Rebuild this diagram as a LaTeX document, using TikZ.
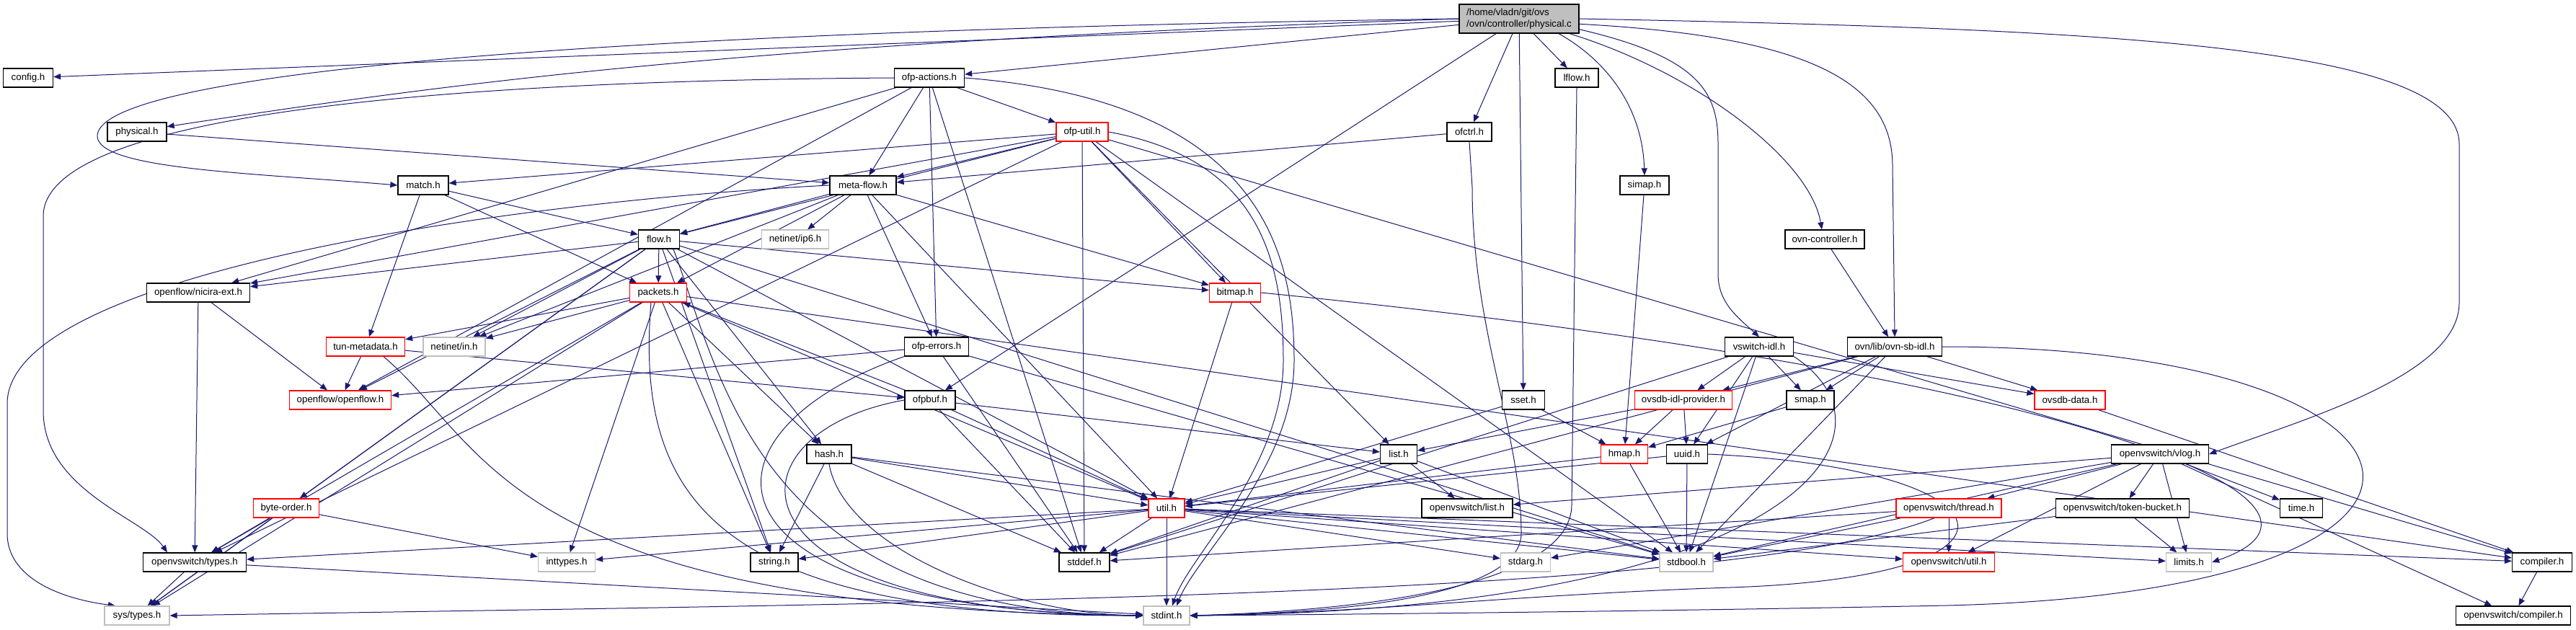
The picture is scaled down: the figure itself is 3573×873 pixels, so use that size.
\documentclass[tikz,border=0pt]{standalone}
\usepackage{fontspec}
\setmainfont{Liberation Sans}
\usetikzlibrary{arrows.meta}
\definecolor{edgec}{RGB}{25,25,112}
\definecolor{grayb}{RGB}{191,191,191}
\pgfdeclarelayer{bg}
\pgfsetlayers{bg,main}
\newcommand{\dgfont}{\fontsize{13.3}{15.5}\selectfont}
\tikzset{
  box/.style={rectangle, fill=white, line width=1.3pt, minimum height=26pt, inner sep=0pt, font=\dgfont},
  bk/.style={box, draw=black, minimum width=#1},
  rd/.style={box, draw=red, minimum width=#1},
  gy/.style={box, draw=grayb, minimum width=#1},
  dep/.style={draw=edgec, line width=1pt, -{Triangle[length=10pt,width=8pt]}}
}
\begin{document}
\begin{tikzpicture}[x=1pt,y=-1pt]
\useasboundingbox (0,0) rectangle (3573,873);
% nodes
\node[box, draw=black, fill=grayb, minimum width=166pt, minimum height=40pt, align=left] (pc) at (2107,26) {/home/vladn/git/ovs\\/ovn/controller/physical.c};
\node[bk=69pt] (config) at (39,108) {config.h};
\node[bk=82pt] (physh) at (190,183) {physical.h};
\node[bk=70pt] (match) at (587,257) {match.h};
\node[bk=97pt] (ofpact) at (1289,108) {ofp-actions.h};
\node[rd=72pt] (ofputil) at (1501,183) {ofp-util.h};
\node[bk=92pt] (metaflow) at (1197,257) {meta-flow.h};
\node[bk=57pt] (flow) at (914,332) {flow.h};
\node[gy=93pt] (ip6) at (1103,332) {netinet/ip6.h};
\node[bk=143pt] (nicira) at (275,406) {openflow/nicira-ext.h};
\node[rd=79pt] (packets) at (913,406) {packets.h};
\node[rd=71pt] (bitmap) at (1713,406) {bitmap.h};
\node[bk=60pt] (lflow) at (2187,108) {lflow.h};
\node[bk=62pt] (ofctrl) at (2038,183) {ofctrl.h};
\node[bk=68pt] (simap) at (2281,257) {simap.h};
\node[bk=110pt] (ovnctl) at (2531,332) {ovn-controller.h};
\node[rd=109pt] (tunmeta) at (507,481) {tun-metadata.h};
\node[gy=86pt] (netin) at (630,481) {netinet/in.h};
\node[bk=89pt] (ofperr) at (1299,481) {ofp-errors.h};
\node[bk=95pt] (vswitch) at (2440,481) {vswitch-idl.h};
\node[bk=131pt] (ovnsb) at (2628,481) {ovn/lib/ovn-sb-idl.h};
\node[rd=141pt] (openflow) at (472,555) {openflow/openflow.h};
\node[bk=70pt] (ofpbuf) at (1290,555) {ofpbuf.h};
\node[bk=59pt] (sset) at (2113,555) {sset.h};
\node[rd=135pt] (provider) at (2335,555) {ovsdb-idl-provider.h};
\node[bk=66pt] (smap) at (2511,555) {smap.h};
\node[rd=98pt] (ovsdbdata) at (2871,555) {ovsdb-data.h};
\node[bk=62pt] (hash) at (1150,630) {hash.h};
\node[bk=51pt] (list) at (1940,630) {list.h};
\node[rd=65pt] (hmap) at (2253,630) {hmap.h};
\node[bk=57pt] (uuid) at (2340,630) {uuid.h};
\node[bk=135pt] (vlog) at (2996,630) {openvswitch/vlog.h};
\node[rd=91pt] (byteorder) at (397,705) {byte-order.h};
\node[rd=50pt] (util) at (1618,705) {util.h};
\node[bk=126pt] (ovslist) at (2035,705) {openvswitch/list.h};
\node[rd=146pt] (thread) at (2703,705) {openvswitch/thread.h};
\node[bk=185pt] (tokenb) at (2944,705) {openvswitch/token-bucket.h};
\node[bk=59pt] (time) at (3192,705) {time.h};
\node[bk=143pt] (types) at (270,780) {openvswitch/types.h};
\node[gy=79pt] (inttypes) at (786,780) {inttypes.h};
\node[bk=66pt] (string) at (1074,780) {string.h};
\node[bk=70pt] (stddef) at (1504,780) {stddef.h};
\node[gy=69pt] (stdarg) at (2116,780) {stdarg.h};
\node[gy=74pt] (stdbool) at (2339,780) {stdbool.h};
\node[rd=127pt] (ovsutil) at (2703,780) {openvswitch/util.h};
\node[gy=63pt] (limits) at (3036,780) {limits.h};
\node[bk=83pt] (compiler) at (3526,780) {compiler.h};
\node[gy=90pt] (systypes) at (190,854) {sys/types.h};
\node[gy=64pt] (stdint) at (1618,854) {stdint.h};
\node[bk=159pt] (ovscomp) at (3486,854) {openvswitch/compiler.h};
% edges
\begin{pgfonlayer}{bg}
\foreach \a/\b in {pc/config, pc/ofpact, pc/ofpbuf, pc/ofctrl, pc/sset, pc/lflow,
  physh/metaflow, match/flow, match/packets, match/tunmeta,
  ofpact/ofputil, ofpact/metaflow, ofpact/ofperr, ofpact/openflow, ofpact/nicira, ofpact/stddef,
  ofputil/match, ofputil/metaflow, ofputil/flow, ofputil/nicira, ofputil/types, ofputil/bitmap, ofputil/stddef,
  ofputil/compiler, ofputil/list, ofputil/stdbool,
  ofctrl/metaflow, simap/hmap, ovnctl/ovnsb,
  metaflow/netin, metaflow/ip6, metaflow/bitmap, metaflow/flow, metaflow/ofperr, metaflow/packets, metaflow/util,
  flow/systypes, flow/netin, flow/stdbool, flow/string, flow/bitmap, flow/byteorder, flow/nicira,
  flow/openflow, flow/packets, flow/hash, flow/util,
  packets/inttypes, packets/systypes, packets/string, packets/compiler, packets/types,
  packets/hash, packets/tunmeta, packets/util, packets/netin,
  bitmap/util, nicira/openflow, nicira/types,
  tunmeta/openflow, tunmeta/ofpbuf,
  ofperr/openflow, ofperr/stddef, ofperr/stdbool,
  ofpbuf/list, ofpbuf/util, ofpbuf/stddef, ofpbuf/packets,
  vswitch/stdbool, vswitch/stddef, vswitch/ovsdbdata, vswitch/provider, vswitch/smap, vswitch/uuid,
  ovnsb/stdbool, ovnsb/stddef, ovnsb/ovsdbdata, ovnsb/provider, ovnsb/smap, ovnsb/uuid,
  sset/hmap, sset/util, provider/hmap, provider/list, provider/uuid, smap/hmap, ovsdbdata/compiler,
  hash/string, hash/stddef, hash/util, hash/stdbool,
  list/ovslist, list/util, list/stddef, list/stdbool, hmap/util, hmap/stdbool,
  uuid/util, uuid/stdbool,
  vlog/thread, vlog/tokenb, vlog/time, vlog/limits, vlog/ovsutil, vlog/ovscomp, vlog/stdbool, vlog/stdarg, vlog/ovslist,
  byteorder/types, byteorder/systypes, byteorder/inttypes,
  util/inttypes, util/limits, util/stdarg, util/stdbool, util/stddef, util/stdint, util/string, util/compiler,
  util/types, util/ovsutil,
  thread/ovsutil, thread/stddef, thread/stdbool, tokenb/limits, tokenb/stdbool,
  types/systypes, types/stdint, compiler/ovscomp}
  \draw[dep] (\a) -- (\b);
% routed edges
\draw[dep] (pc.west) .. controls (700,45) and (130,110) .. (135,190) .. controls (140,235) and (350,240) .. (match.west);
\draw[dep] (pc.west) .. controls (1000,60) and (600,120) .. (physh.10);
\draw[dep] (ofpact.west) .. controls (600,112) and (60,160) .. (60,300) -- (60,570) .. controls (60,680) and (200,720) .. ([xshift=-38pt]types.north);
\draw[dep] (metaflow.west) .. controls (700,280) and (10,380) .. (10,560) -- (10,740) .. controls (10,800) and (80,830) .. ([xshift=-30pt]systypes.north);
\draw[dep] (pc.east) .. controls (2900,40) and (3411,60) .. (3411,200) -- (3411,420) .. controls (3411,520) and (3200,580) .. (vlog.east);
\draw[dep] ([xshift=70pt]pc.south) .. controls (2350,100) and (2510,220) .. ([xshift=-4pt]ovnctl.north);
\draw[dep] (pc.-5) .. controls (2500,50) and (2625,110) .. (2625,230) -- (ovnsb.north);
\draw[dep] ([xshift=-20pt]thread.south) .. controls (2400,830) and (1300,836) .. (systypes.east);
\draw[dep] ([xshift=55pt]pc.south) .. controls (2230,85) and (2278,150) .. (simap.north);
\draw[dep] (pc.-10) .. controls (2360,80) and (2383,130) .. (2383,200) -- (2383,380) .. controls (2383,420) and (2410,440) .. (vswitch.north);
\draw[dep] (ofpact.east) .. controls (1750,140) and (1795,350) .. (1795,500) .. controls (1795,650) and (1660,770) .. ([xshift=14pt]stdint.north);
\draw[dep] (ofputil.east) .. controls (1740,220) and (1780,350) .. (1780,500) .. controls (1780,650) and (1650,770) .. ([xshift=8pt]stdint.north);
\draw[dep] (ofctrl.south) -- (2042,260) .. controls (2042,460) and (2110,600) .. (2110,740) .. controls (2110,820) and (1900,850) .. (stdint.east);
\draw[dep] (lflow.south) -- (2180,700) .. controls (2180,800) and (1950,845) .. (stdint.east);
\draw[dep] ([xshift=20pt]flow.south) .. controls (1000,520) and (1050,850) .. (stdint.west);
\draw[dep] ([xshift=-10pt]packets.south) .. controls (880,700) and (1000,855) .. (stdint.west);
\draw[dep] ([xshift=25pt]tunmeta.south) .. controls (680,620) and (700,845) .. (stdint.west);
\draw[dep] (ofperr.south west) .. controls (950,600) and (950,845) .. (stdint.west);
\draw[dep] (ofpbuf.west) .. controls (1000,600) and (990,850) .. (stdint.west);
\draw[dep] (hash.south) .. controls (1170,760) and (1400,852) .. (stdint.west);
\draw[dep] (vswitch.south east) .. controls (2650,600) and (2500,845) .. (stdint.east);
\draw[dep] (ovnsb.east) .. controls (3420,480) and (3520,820) .. (2700,840) .. controls (2300,848) and (1900,852) .. (stdint.east);
\draw[dep] (uuid.east) .. controls (2800,650) and (2850,800) .. (2400,815) .. controls (2100,825) and (1900,850) .. (stdint.east);
\draw[dep] (bitmap.east) .. controls (2900,520) and (3300,700) .. (limits.east);
\end{pgfonlayer}
\end{tikzpicture}
\end{document}
